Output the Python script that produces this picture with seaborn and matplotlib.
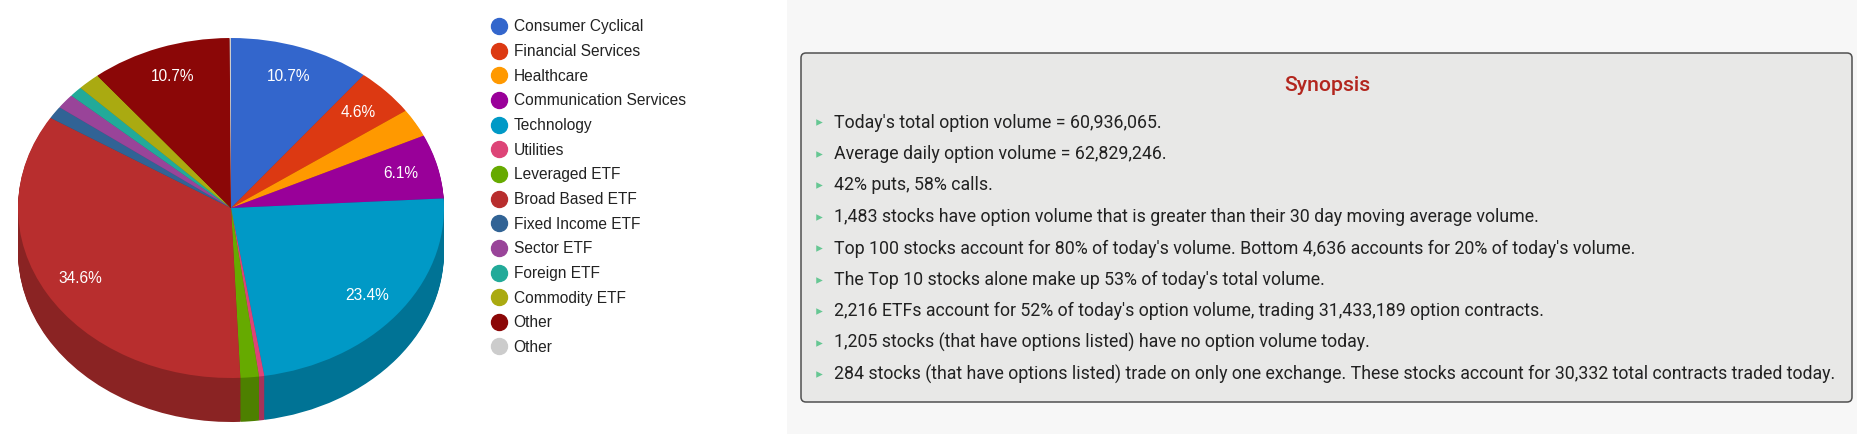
import matplotlib
matplotlib.use("Agg")
import matplotlib.pyplot as plt
from matplotlib.colors import to_rgb
from matplotlib.lines import Line2D
from matplotlib.patches import Rectangle, FancyBboxPatch
import seaborn as sns
import numpy as np

# sector share of option volume (%)
sectors = ["Consumer Cyclical", "Financial Services", "Healthcare",
           "Communication Services", "Technology", "Utilities",
           "Leveraged ETF", "Broad Based ETF", "Fixed Income ETF",
           "Sector ETF", "Foreign ETF", "Commodity ETF", "Other", "Other"]
shares = [10.7, 4.6, 2.7, 6.1, 23.4, 0.4, 1.4, 34.6, 1.2, 1.4, 1.0, 1.7, 10.7, 0.1]
sector_colors = ["#3366cc", "#dc3912", "#ff9900", "#990099", "#0099c6", "#dd4477",
                 "#66aa00", "#b82e2e", "#316395", "#994499", "#22aa99", "#aaaa11",
                 "#8b0707", "#cccccc"]

synopsis_title = "Synopsis"
synopsis_lines = [
    "Today's total option volume = 60,936,065.",
    "Average daily option volume = 62,829,246.",
    "42% puts, 58% calls.",
    "1,483 stocks have option volume that is greater than their 30 day moving average volume.",
    "Top 100 stocks account for 80% of today's volume. Bottom 4,636 accounts for 20% of today's volume.",
    "The Top 10 stocks alone make up 53% of today's total volume.",
    "2,216 ETFs account for 52% of today's option volume, trading 31,433,189 option contracts.",
    "1,205 stocks (that have options listed) have no option volume today.",
    "284 stocks (that have options listed) trade on only one exchange. These stocks account for 30,332 total contracts traded today.",
]

sns.set_theme(style="white")
plt.rcParams["font.family"] = ["Liberation Sans", "DejaVu Sans"]

W, H = 1858, 434
fig = plt.figure(figsize=(W / 100, H / 100), dpi=100)
fig.patch.set_facecolor("white")

# background layer in pixel coordinates
bg = fig.add_axes([0, 0, 1, 1])
bg.set_xlim(0, W)
bg.set_ylim(H, 0)
bg.axis("off")
bg.add_patch(Rectangle((787, 0), W - 787, H, facecolor="#f7f7f7", edgecolor="none"))
bg.add_patch(FancyBboxPatch((801, 53), 1852 - 801, 402 - 53,
                            boxstyle="round,pad=0,rounding_size=5",
                            facecolor="#e8e8e7", edgecolor="#505050", linewidth=1.1))
bg.text(1327, 91, synopsis_title, ha="center", va="baseline", fontsize=15.3,
        color="#b3261e", family="Roboto", fontweight="medium")
for i, line in enumerate(synopsis_lines):
    y = 127.5 + i * 31.5
    bg.scatter([819], [y - 5.5], marker=">", s=22, color="#66c793", linewidths=0)
    bg.text(834, y, line, ha="left", va="baseline", fontsize=12.75,
            color="#222222", family="Roboto")

# 3D-looking pie
pie_ax = fig.add_axes([0, 0, 470 / W, 1])
pie_ax.patch.set_alpha(0)
palette = sns.color_palette(sector_colors)
side_colors = [tuple(np.array(to_rgb(c)) * 0.75) for c in palette]

depth = 44 / 170
for off in np.linspace(depth, 0, 46, endpoint=False):
    pie_ax.pie(shares, colors=side_colors, startangle=90, counterclock=False,
               center=(0, -off), radius=1, wedgeprops=dict(linewidth=0))

pie_ax.pie(shares, colors=palette, startangle=90, counterclock=False,
           radius=1, wedgeprops=dict(linewidth=0),
           autopct=lambda p: f"{p:.1f}%" if p >= 4 else "", pctdistance=0.82,
           textprops=dict(color="white", fontsize=11.2))

pie_ax.set_aspect("auto")
x0 = -231 / 213
pie_ax.set_xlim(x0, x0 + 470 / 213)
y1 = 208 / 170
pie_ax.set_ylim(y1 - H / 170, y1)
pie_ax.axis("off")

handles = [Line2D([], [], marker="o", linestyle="", markersize=11.5,
                  markerfacecolor=c, markeredgecolor=c) for c in palette]
fig.legend(handles, sectors, loc="upper left", bbox_to_anchor=(491 / W, 1 - 19.5 / H),
           frameon=False, fontsize=11.2, handlelength=1.0, handletextpad=0.45,
           labelspacing=0.62, borderpad=0, borderaxespad=0, labelcolor="#222222")

fig.savefig("out.png", dpi=100)
